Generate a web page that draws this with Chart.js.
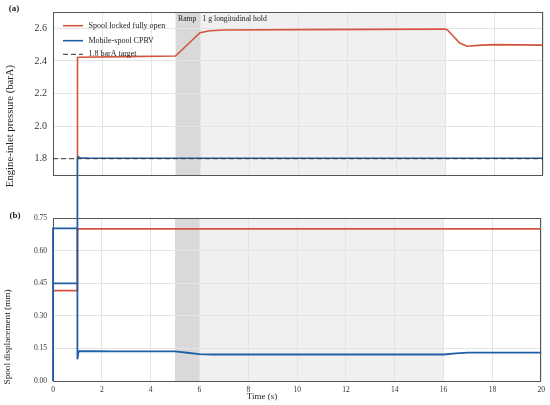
<!DOCTYPE html>
<html><head><meta charset="utf-8">
<script src="https://cdn.jsdelivr.net/npm/chart.js@4.4.1/dist/chart.umd.min.js"></script>
<style>
html,body{margin:0;padding:0;background:#fff;}
#wrap{position:relative;width:550px;height:405px;}
canvas{position:absolute;left:0;top:0;}
</style>
</head><body>
<div id="wrap"><canvas id="cb" width="550" height="405"></canvas><canvas id="ca" width="550" height="405"></canvas></div>
<script>
// ---------- data ----------
const xTickValues = [0, 2, 4, 6, 8, 10, 12, 14, 16, 18, 20];
const pressureTicks = [1.8, 2.0, 2.2, 2.4, 2.6];
const displacementTicks = [0.00, 0.15, 0.30, 0.45, 0.60, 0.75];

const rampPhase = [5, 6];
const holdPhase = [6, 16];

// (a) engine-inlet pressure, barA
const timeRedA = [1, 1, 1.05, 3, 5, 6, 6.4, 7, 10, 16, 16.1, 16.35, 16.6, 16.9, 17.5, 18, 20];
const pressureLocked = [1.80, 2.42, 2.422, 2.426, 2.43, 2.573, 2.585, 2.59, 2.592, 2.595, 2.59, 2.55, 2.51, 2.49, 2.497, 2.50, 2.497];
const timeBlueA = [1, 1.1, 1.5, 20];
const pressureCPRV = [1.815, 1.805, 1.803, 1.803];
const timeTarget = [0, 20];
const pressureTarget = [1.8, 1.8];

// (b) spool displacement, mm
const timeRedB = [0, 1, 1, 20];
const dispLocked = [0.416, 0.416, 0.70, 0.70];
const timeBlueB = [0, 0, 1, 1, 1, 1.05, 2.5, 5, 5.5, 6, 6.5, 16, 16.5, 17, 20];
const dispCPRV = [0, 0.702, 0.702, 1.03, 0.10, 0.138, 0.136, 0.136, 0.13, 0.124, 0.122, 0.122, 0.127, 0.131, 0.131];
const timeBlueB2 = [0, 1];
const dispCPRV2 = [0.449, 0.449];

const seriesNames = ['Spool locked fully open', 'Mobile-spool CPRV', '1.8 barA target'];

// ---------- style ----------
const RED = '#d4553f';
const BLUE = '#1f5fa6';
const DASH = '#333333';
const SERIF = '"Liberation Serif", "Times New Roman", serif';
const GRID = '#e4e4e4';
const RAMP_FILL = '#d9d9d9';
const HOLD_FILL = '#f0f0f0';

const pts = (xs, ys) => xs.map((x, i) => ({x, y: ys[i]}));

const shadePlugin = {
  id: 'shade',
  beforeDraw(chart) {
    const {ctx, chartArea: a, scales: {x}} = chart;
    ctx.save();
    ctx.fillStyle = HOLD_FILL;
    ctx.fillRect(x.getPixelForValue(holdPhase[0]), a.top, x.getPixelForValue(holdPhase[1]) - x.getPixelForValue(holdPhase[0]), a.bottom - a.top);
    ctx.fillStyle = RAMP_FILL;
    ctx.fillRect(x.getPixelForValue(rampPhase[0]), a.top, x.getPixelForValue(rampPhase[1]) - x.getPixelForValue(rampPhase[0]), a.bottom - a.top);
    ctx.restore();
  },
  beforeDatasetsDraw(chart) {
    const {ctx, chartArea: a} = chart;
    ctx.save();
    ctx.strokeStyle = '#555';
    ctx.lineWidth = 1;
    ctx.strokeRect(Math.round(a.left) + 0.5, Math.round(a.top) + 0.5, Math.round(a.right - a.left) - 1, Math.round(a.bottom - a.top));
    ctx.restore();
  }
};

function text(ctx, s, x, y, font, align, color, rot) {
  ctx.save();
  ctx.font = font;
  ctx.fillStyle = color || '#222';
  ctx.textAlign = align || 'left';
  ctx.textBaseline = 'middle';
  ctx.translate(x, y);
  if (rot) ctx.rotate(rot);
  ctx.fillText(s, 0, 0);
  ctx.restore();
}

const topText = {
  id: 'topText',
  afterDraw(chart) {
    const {ctx, scales: {x}} = chart;
    text(ctx, '(a)', 14, 9, 'bold 9px ' + SERIF, 'center');
    text(ctx, 'Engine-inlet pressure (barA)', 10, 126, '10.7px ' + SERIF, 'center', '#222', -Math.PI / 2);
    text(ctx, 'Ramp', x.getPixelForValue(rampPhase[0]) + 2.5, 19, '7.7px ' + SERIF, 'left');
    text(ctx, '1 g longitudinal hold', x.getPixelForValue(holdPhase[0]) + 2.5, 19, '7.7px ' + SERIF, 'left');
    // legend
    const ly = [25.7, 40.7, 54.3];
    const cols = [RED, BLUE, DASH];
    ctx.save();
    for (let i = 0; i < 3; i++) {
      ctx.beginPath();
      ctx.strokeStyle = cols[i];
      ctx.lineWidth = i === 2 ? 1 : 1.6;
      ctx.setLineDash(i === 2 ? [5, 3] : []);
      ctx.moveTo(63, ly[i]);
      ctx.lineTo(83, ly[i]);
      ctx.stroke();
    }
    ctx.restore();
    for (let i = 0; i < 3; i++) text(ctx, seriesNames[i], 88.5, ly[i], '8px ' + SERIF, 'left');
  }
};

const bottomText = {
  id: 'bottomText',
  afterDraw(chart) {
    const {ctx} = chart;
    text(ctx, '(b)', 15, 216, 'bold 9px ' + SERIF, 'center');
    text(ctx, 'Spool displacement (mm)', 8, 337, '9.2px ' + SERIF, 'center', '#222', -Math.PI / 2);
    text(ctx, 'Time (s)', 262, 397, '9px ' + SERIF, 'center');
  }
};

const setTicks = (vals) => (scale) => { scale.ticks = vals.map(v => ({value: v})); };

// ---------- top chart (a) ----------
new Chart(document.getElementById('ca'), {
  type: 'line',
  data: {
    datasets: [
      {label: seriesNames[2], data: pts(timeTarget, pressureTarget), borderColor: DASH, borderWidth: 1, borderDash: [5, 3], pointRadius: 0, order: 0},
      {label: seriesNames[1], data: pts(timeBlueA, pressureCPRV), borderColor: BLUE, borderWidth: 1.6, pointRadius: 0, order: 1},
      {label: seriesNames[0], data: pts(timeRedA, pressureLocked), borderColor: RED, borderWidth: 1.6, pointRadius: 0, order: 2}
    ]
  },
  options: {
    responsive: false, animation: false,
    layout: {padding: {top: 12, right: 7, bottom: 230, left: 0}},
    plugins: {legend: {display: false}, tooltip: {enabled: false}},
    elements: {line: {tension: 0}},
    scales: {
      x: {type: 'linear', min: 0, max: 20, afterBuildTicks: setTicks(xTickValues),
          ticks: {display: false}, grid: {color: GRID, drawTicks: false}, border: {display: false},
          afterFit: (s) => { s.height = 0; }},
      y: {min: 1.7, max: 2.7, afterBuildTicks: setTicks(pressureTicks),
          ticks: {font: {family: SERIF, size: 10}, color: '#333', padding: 6, callback: (v) => v.toFixed(1)},
          grid: {color: GRID, drawTicks: false}, border: {display: false},
          afterFit: (s) => { s.width = 53; }}
    }
  },
  plugins: [shadePlugin, topText]
});

// ---------- bottom chart (b) ----------
new Chart(document.getElementById('cb'), {
  type: 'line',
  data: {
    datasets: [
      {label: seriesNames[1], data: pts(timeBlueB, dispCPRV), borderColor: BLUE, borderWidth: 1.8, pointRadius: 0, clip: false, order: 0},
      {label: seriesNames[1] + ' ', data: pts(timeBlueB2, dispCPRV2), borderColor: BLUE, borderWidth: 1.8, pointRadius: 0, order: 1},
      {label: seriesNames[0], data: pts(timeRedB, dispLocked), borderColor: RED, borderWidth: 1.8, pointRadius: 0, order: 2}
    ]
  },
  options: {
    responsive: false, animation: false,
    layout: {padding: {top: 218, right: 7, bottom: 0, left: 0}},
    plugins: {legend: {display: false}, tooltip: {enabled: false}},
    elements: {line: {tension: 0}},
    scales: {
      x: {type: 'linear', min: 0, max: 20, afterBuildTicks: setTicks(xTickValues),
          ticks: {font: {family: SERIF, size: 7.5}, color: '#333', padding: 5, maxRotation: 0},
          grid: {color: GRID, drawTicks: false}, border: {display: false},
          afterFit: (s) => { s.height = 24; }},
      y: {min: 0, max: 0.75, afterBuildTicks: setTicks(displacementTicks),
          ticks: {font: {family: SERIF, size: 7.5}, color: '#333', padding: 6, callback: (v) => v.toFixed(2)},
          grid: {color: GRID, drawTicks: false}, border: {display: false},
          afterFit: (s) => { s.width = 53; }}
    }
  },
  plugins: [shadePlugin, bottomText]
});
</script>
</body></html>
